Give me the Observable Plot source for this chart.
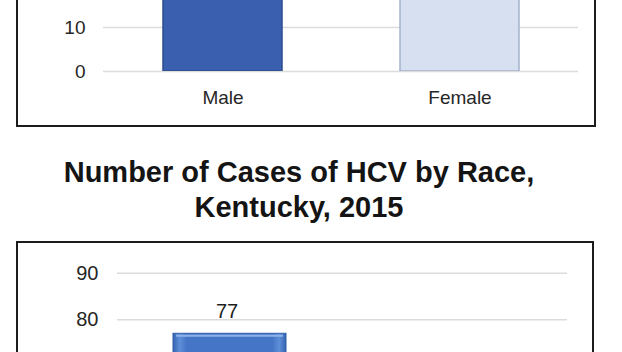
<!DOCTYPE html>
<html>
<head>
<meta charset="utf-8">
<script src="https://cdn.jsdelivr.net/npm/d3@7"></script>
<script src="https://cdn.jsdelivr.net/npm/@observablehq/plot@0.6"></script>
<style>
  html, body { margin: 0; padding: 0; background: #fff; }
  #page { position: relative; width: 622px; height: 352px; overflow: hidden; background: #fff;
          font-family: "Liberation Sans", Arial, sans-serif; }
  .abs { position: absolute; }
  .frame { position: absolute; box-sizing: border-box; border: 2px solid #1c1c1c; pointer-events: none; }
  #title { left: 0; width: 598px; top: 155px; text-align: center; font-weight: bold;
           font-size: 29px; line-height: 35px; color: #141414; }
</style>
</head>
<body>
<div id="page">
  <div id="topchart" class="abs" style="left:0;top:0;"></div>
  <div class="frame" style="left:16px;top:-20px;width:580px;height:147px;"></div>
  <div id="title" class="abs">Number of Cases of HCV by Race,<br>Kentucky, 2015</div>
  <div id="bottomchart" class="abs" style="left:0;top:242px;"></div>
  <div class="frame" style="left:16px;top:241px;width:578px;height:200px;"></div>
</div>
<script>
// Chart 1: cases by sex (bars extend above the visible crop)
const sexCategories = ["Male", "Female"];
const sexValues = [44, 38];
const sexTicks = [0, 10];
const sexColors = ["#3a5fae", "#d6e0f0"];
const sexStrokes = ["#2c4d8f", "#a3b2cc"];

// Chart 2: cases by race (only the top of the first bar is in view)
const raceCategories = ["White", "Black"];
const raceValues = [77, 4];
const raceTicks = [80, 90];

const sexData = sexCategories.map((c, i) => ({category: c, value: sexValues[i], fill: sexColors[i], stroke: sexStrokes[i]}));
const raceData = raceCategories.map((c, i) => ({category: c, value: raceValues[i]}));

const fontStyle = {fontFamily: "'Liberation Sans', Arial, sans-serif", fontSize: "19px", color: "#262626", background: "transparent"};

const topChart = Plot.plot({
  width: 622, height: 128,
  marginTop: 0, marginBottom: 57, marginLeft: 103, marginRight: 44,
  style: fontStyle,
  x: {domain: sexCategories, paddingInner: 0.5, paddingOuter: 0.25, axis: null, label: null},
  y: {domain: [0, 16.14], axis: null, label: null},
  marks: [
    Plot.ruleY(sexTicks, {stroke: "#dcdcdc", strokeWidth: 1.5}),
    Plot.barY(sexData, {x: "category", y: "value", fill: "fill", stroke: "stroke", strokeWidth: 1.5, clip: true}),
    Plot.axisY({ticks: sexTicks, tickSize: 0, tickPadding: 18, fontSize: 19, label: null}),
    Plot.axisX({tickSize: 0, tickPadding: 19, fontSize: 19, label: null})
  ]
});
document.getElementById("topchart").appendChild(topChart);

const raceYDomain = [72.98, 96.59];
const bottomChart = Plot.plot({
  width: 622, height: 110,
  marginTop: 0, marginBottom: 0, marginLeft: 117, marginRight: 55,
  style: fontStyle,
  x: {domain: raceCategories, paddingInner: 0.5, paddingOuter: 0.25, axis: null, label: null},
  y: {domain: raceYDomain, axis: null, label: null},
  marks: [
    Plot.ruleY(raceTicks, {stroke: "#dcdcdc", strokeWidth: 1.5, clip: true}),
    Plot.barY(raceData, {x: "category", y: "value", fill: "url(#bevel)", stroke: "#2f5ea8", strokeWidth: 1, clip: true}),
    Plot.tickY(raceData, {filter: d => d.value >= raceYDomain[0], x: "category", y: "value", stroke: "#8db2ea", strokeWidth: 2, dy: 2, insetLeft: 3, insetRight: 3, clip: true}),
    Plot.text(raceData, {filter: d => d.value >= raceYDomain[0], x: "category", y: "value", text: d => String(d.value), lineAnchor: "bottom", dy: -16, dx: -3, fontSize: 20, fill: "#1e1e1e"}),
    Plot.axisY({ticks: raceTicks, tickSize: 0, tickPadding: 19, fontSize: 20, label: null})
  ]
});
const defs = d3.select(bottomChart).insert("defs", ":first-child");
const grad = defs.append("linearGradient").attr("id", "bevel").attr("x1", 0).attr("y1", 0).attr("x2", 1).attr("y2", 0);
grad.append("stop").attr("offset", 0).attr("stop-color", "#3463b0");
grad.append("stop").attr("offset", 0.06).attr("stop-color", "#5f8fd8");
grad.append("stop").attr("offset", 0.12).attr("stop-color", "#4575c6");
grad.append("stop").attr("offset", 0.88).attr("stop-color", "#4575c6");
grad.append("stop").attr("offset", 0.94).attr("stop-color", "#5f8fd8");
grad.append("stop").attr("offset", 1).attr("stop-color", "#3463b0");
document.getElementById("bottomchart").appendChild(bottomChart);
</script>
</body>
</html>
